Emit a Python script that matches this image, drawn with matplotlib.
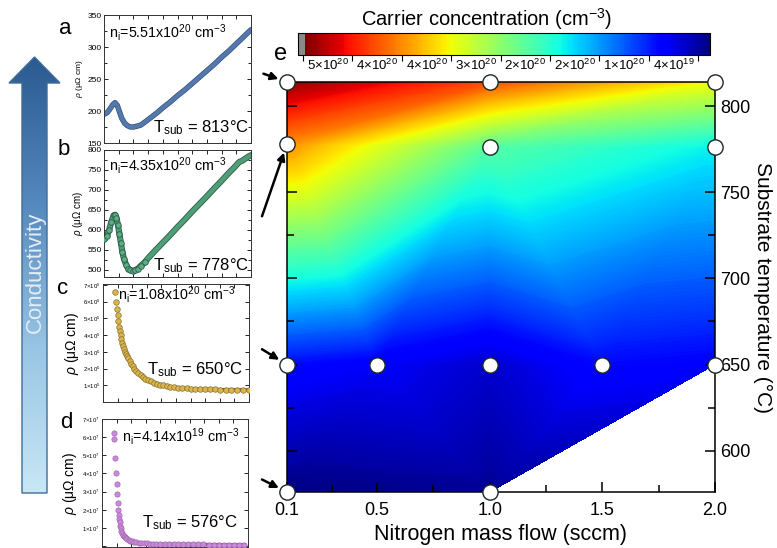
import numpy as np
import matplotlib
matplotlib.use('Agg')
import matplotlib.pyplot as plt
from matplotlib.tri import Triangulation
from matplotlib.ticker import MultipleLocator, FixedLocator, FixedFormatter, FuncFormatter
from matplotlib.patches import Polygon
from matplotlib.colors import LinearSegmentedColormap
import matplotlib.patheffects as pe

plt.rcParams['font.family'] = ['Liberation Sans', 'DejaVu Sans']
plt.rcParams['mathtext.fontset'] = 'custom'
plt.rcParams['mathtext.rm'] = 'Liberation Sans'
plt.rcParams['mathtext.it'] = 'Liberation Sans:italic'
plt.rcParams['mathtext.bf'] = 'Liberation Sans:bold'

# ---------------- data ----------------
flow = [0.1, 0.1, 0.1, 0.1, 0.5, 1.0, 1.0, 1.0, 1.0, 1.5, 2.0, 2.0, 2.0]
tsub = [814, 778, 650, 576, 650, 814, 776, 650, 576, 650, 814, 776, 650]
carrier = [5.51e20, 4.35e20, 1.08e20, 4.14e19, 0.97e20, 4.7e20, 2.75e20,
           0.76e20, 0.5e20, 1.08e20, 3.73e20, 2.27e20, 1.02e20]
triangles = [[0, 5, 1], [1, 5, 6], [5, 10, 6], [6, 10, 11],
             [1, 6, 4], [1, 4, 2], [4, 6, 7],
             [6, 9, 7], [6, 11, 9], [11, 12, 9],
             [2, 4, 3], [4, 8, 3], [4, 7, 8], [7, 9, 8], [9, 12, 8]]
arrow_points = [0, 1, 2, 3]

cbar_title = 'Carrier concentration (cm$^{-3}$)'
cbar_labels = ['5×10$^{20}$', '4×10$^{20}$', '4×10$^{20}$', '3×10$^{20}$',
               '2×10$^{20}$', '2×10$^{20}$', '1×10$^{20}$', '4×10$^{19}$']
x_ticks = [0.1, 0.5, 1.0, 1.5, 2.0]
x_ticklabels = ['0.1', '0.5', '1.0', '1.5', '2.0']
x_minor = [0.3, 0.75, 1.25, 1.75]
y_ticks = [600, 650, 700, 750, 800]

# small panels: temperature (K) vs resistivity
a_T = [0, 6, 12, 18, 22.5, 27, 31.5, 36, 42, 48, 54, 60, 66, 75, 84, 96, 108, 120, 135, 150,
       165, 180, 195, 210, 225, 240, 255, 270, 285, 300]
a_rho = [195, 197, 203, 210, 213, 209, 199, 189, 181, 177, 175, 175, 176, 178, 183, 190, 197,
         205, 214, 224, 233, 243, 253, 263, 273, 284, 294, 305, 316, 327]
b_T = [0, 6, 10.5, 15, 19.5, 22.5, 25.5, 28.5, 31.5, 34.5, 37.5, 40.5, 45, 49.5, 54, 58.5, 63,
       69, 75, 84, 90, 105, 120, 135, 150, 165, 180, 195, 210, 225, 240, 255, 264, 270, 276,
       282, 288, 294, 300]
b_rho = [578, 585, 600, 620, 636, 638, 630, 612, 590, 567, 545, 528, 513, 503, 499, 497, 499,
         503, 510, 520, 529, 549, 568, 587, 607, 626, 646, 665, 684, 704, 723, 743, 754, 762,
         770, 773, 778, 783, 787]
c_T = [24, 26.1, 28.2, 30, 31.8, 33.3, 34.8, 36.3, 37.8, 39.3, 41.1, 42.9, 45, 47.1, 49.5,
       51.9, 54.6, 57.6, 60.9, 64.5, 68.4, 72.6, 77.1, 81.9, 87, 92.4, 98.1, 104.1, 110.4, 117,
       123.9, 131.1, 138.6, 146.4, 154.5, 162.9, 171.6, 180.6, 189.9, 199.5, 209.4, 219.6,
       230.1, 240.9, 252, 263.4, 275.1, 287.1, 299.4]
c_rho = [6.55, 6.00, 5.55, 5.20, 4.85, 4.50, 4.25, 4.00, 3.75, 3.55, 3.35, 3.15, 3.00, 2.87,
         2.73, 2.60, 2.45, 2.30, 2.15, 2.00, 1.87, 1.74, 1.62, 1.50, 1.40, 1.31, 1.23, 1.16,
         1.10, 1.04, 0.99, 0.95, 0.91, 0.88, 0.85, 0.83, 0.81, 0.79, 0.78, 0.77, 0.76, 0.75,
         0.75, 0.74, 0.74, 0.73, 0.73, 0.73, 0.72]  # x1e5
d_T = [24, 24.6, 27, 28.5, 30, 31.2, 32.4, 33.3, 34.2, 35.1, 36, 37.2, 38.4, 39.9, 41.4, 43.2,
       45, 47.1, 49.5, 52.2, 55.2, 58.5, 62.1, 66, 70.5, 75, 80.1, 85.5, 91.5, 97.8, 104.7,
       111.9, 120, 129, 138, 147, 156, 166.5, 177, 187.5, 198, 208.5, 219, 229.5, 240, 250.5,
       261, 271.5, 282, 292.5]
d_rho = [6.25, 5.90, 4.85, 4.00, 3.40, 2.85, 2.35, 2.00, 1.72, 1.50, 1.30, 1.12, 0.97, 0.84,
         0.73, 0.63, 0.55, 0.48, 0.42, 0.37, 0.33, 0.29, 0.26, 0.23, 0.21, 0.19, 0.17, 0.16,
         0.15, 0.14, 0.13, 0.12, 0.115, 0.11, 0.105, 0.10, 0.10, 0.095, 0.095, 0.09, 0.09,
         0.09, 0.085, 0.085, 0.085, 0.08, 0.08, 0.08, 0.08, 0.08]  # x1e7

ni_texts = ['n$_\\mathregular{i}$=5.51x10$^{20}$ cm$^{-3}$',
            'n$_\\mathregular{i}$=4.35x10$^{20}$ cm$^{-3}$',
            'n$_\\mathregular{i}$=1.08x10$^{20}$ cm$^{-3}$',
            'n$_\\mathregular{i}$=4.14x10$^{19}$ cm$^{-3}$']
tsub_texts = ['T$_\\mathregular{sub}$ = 813°C', 'T$_\\mathregular{sub}$ = 778°C',
              'T$_\\mathregular{sub}$ = 650°C', 'T$_\\mathregular{sub}$ = 576°C']
letters = ['a', 'b', 'c', 'd']

# ---------------- figure ----------------
W, H = 777, 548
fig = plt.figure(figsize=(W / 100, H / 100), dpi=100)


def px_axes(l, t, r, b, **kw):
    return fig.add_axes([l / W, 1 - b / H, (r - l) / W, (b - t) / H], **kw)


# background axes (pixel coordinates) for the conductivity arrow
bg = px_axes(0, 0, W, H, zorder=-5)
bg.set_xlim(0, W)
bg.set_ylim(H, 0)
bg.axis('off')
arrow_poly = Polygon([(34.5, 57), (60, 83), (47, 83), (47, 493), (22, 493), (22, 83), (9, 83)],
                     closed=True, facecolor='none', edgecolor='#3e6d99', lw=1.0, zorder=3)
bg.add_patch(arrow_poly)
grad_cmap = LinearSegmentedColormap.from_list('g', ['#2a5a90', '#5588bd', '#98c5e4', '#c9e7f6'])
grad = np.linspace(0, 1, 256).reshape(-1, 1)
im = bg.imshow(grad, cmap=grad_cmap, extent=(9, 60, 493, 57), aspect='auto', zorder=2)
im.set_clip_path(arrow_poly)
bg.text(35.5, 272, 'Conductivity', rotation=90, ha='center', va='center', fontsize=16,
        color='#e4edf5', zorder=4)

# ---------------- main panel ----------------
ax = px_axes(287, 82, 715, 492)
tri = Triangulation(flow, tsub, triangles)
vmin, vmax = 4.0e19, 5.6e20
levels = np.linspace(vmin, vmax, 241)
cmap = plt.get_cmap('jet').copy()
cmap.set_over('#8a8a8a')
tcf = ax.tricontourf(tri, carrier, levels=levels, cmap=cmap, extend='max')
ax.plot(flow, tsub, 'o', ms=11, mfc='white', mec='#1c2828', mew=1.0,
        clip_on=False, zorder=6)
ax.set_xlim(0.1, 2.0)
ax.set_ylim(576, 814)
ax.set_xticks(x_ticks)
ax.set_xticklabels(x_ticklabels)
ax.xaxis.set_minor_locator(FixedLocator(x_minor))
ax.set_yticks(y_ticks)
ax.yaxis.set_minor_locator(MultipleLocator(25))
ax.tick_params(axis='both', which='both', direction='in', labelsize=13, width=1.1)
ax.tick_params(axis='both', which='major', length=7)
ax.tick_params(axis='both', which='minor', length=5)
ax.tick_params(axis='y', which='both', left=True, right=True, labelleft=False,
               labelright=True, pad=4)
ax.tick_params(axis='x', which='both', top=False, pad=7)
for s in ax.spines.values():
    s.set_linewidth(1.1)
ax.set_xlabel('Nitrogen mass flow (sccm)', fontsize=15.5, labelpad=4)
ax.yaxis.set_label_position('right')
ax.set_ylabel('Substrate temperature (°C)', fontsize=15, rotation=-90, labelpad=15)

for i in arrow_points:
    off = {0: (-17, 6), 1: (-18, -52), 2: (-18, 11), 3: (-18, 9)}[i]
    ax.annotate('', xy=(flow[i], tsub[i]), xycoords='data', xytext=off,
                textcoords='offset points', annotation_clip=False,
                arrowprops=dict(arrowstyle='-|>', color='black', lw=1.8,
                                shrinkA=0, shrinkB=6.5, mutation_scale=11))

fig.text(281 / W, 1 - 54 / H, 'e', fontsize=17, ha='center', va='center')

# ---------------- colorbar ----------------
cax = px_axes(298, 33, 710, 55)
cax.invert_xaxis()
cb = fig.colorbar(tcf, cax=cax, orientation='horizontal', extendrect=True, extendfrac=0.0125)
cb.outline.set_linewidth(0.8)
step = (vmax - vmin) * 0.1214
bounds = [vmax - k * step for k in range(9)]
mids = [vmax - (k + 0.5) * step for k in range(8)]
cb.set_ticks(bounds, labels=[''] * 9)
cb.minorlocator = FixedLocator(mids)
cb.minorformatter = FixedFormatter(cbar_labels)
cb.ax.tick_params(which='major', length=4, width=0.8, direction='out')
cb.ax.tick_params(which='minor', length=0, labelsize=9.5, pad=2)
fig.text(487 / W, 1 - 19 / H, cbar_title, fontsize=14.5, ha='center', va='center')

# ---------------- small panels ----------------
panel_px = [(104, 15, 251, 143), (104, 150, 251, 277), (103, 284, 249, 402), (102, 419, 248, 547)]
letter_px = [(65, 28), (64, 150), (63, 289), (66, 423)]


def style_small(a, lab_size):
    a.set_xlim(0, 300)
    a.xaxis.set_major_locator(MultipleLocator(30))
    a.tick_params(axis='both', which='both', direction='in', top=True, right=True,
                  labelbottom=False, width=0.6)
    a.tick_params(axis='both', which='major', length=3, labelsize=lab_size, pad=1.5)
    a.tick_params(axis='both', which='minor', length=2)
    for s in a.spines.values():
        s.set_linewidth(0.7)
        s.set_color('#333333')


# a
axa = px_axes(*panel_px[0])
axa.plot(a_T, a_rho, '-', color='#5478ab', lw=3.0, solid_capstyle='round',
         path_effects=[pe.Stroke(linewidth=3.9, foreground='#2f4d78'), pe.Normal()])
axa.set_ylim(150, 350)
axa.yaxis.set_major_locator(MultipleLocator(50))
axa.yaxis.set_minor_locator(MultipleLocator(25))
style_small(axa, 6)
axa.set_ylabel('$\\rho$ (μΩ cm)', fontsize=6, labelpad=2)

# b
axb = px_axes(*panel_px[1])
axb.plot(b_T, b_rho, '-', color='#4f9e78', lw=3.2, zorder=2, solid_capstyle='round',
         path_effects=[pe.Stroke(linewidth=4.4, foreground='#2c5c46'), pe.Normal()])
axb.plot(b_T[:20], b_rho[:20], 'o', ms=4.0, mfc='#5eae87', mec='#2c5c46', mew=0.6, zorder=3)
axb.set_ylim(482, 800)
axb.yaxis.set_major_locator(MultipleLocator(50))
axb.yaxis.set_minor_locator(MultipleLocator(25))
style_small(axb, 6)
axb.set_ylabel('$\\rho$ (μΩ cm)', fontsize=7, labelpad=2)

# c
c_vals = [v * 1e5 for v in c_rho]
axc = px_axes(*panel_px[2])
axc.plot(c_T[14:], c_vals[14:], '-', color='#6e5a22', lw=2.4, zorder=2)
axc.plot(c_T, c_vals, 'o', ms=4.0, mfc='#dcb64c', mec='#85702c', mew=0.5, zorder=3)
axc.set_ylim(0, 7.05e5)
axc.yaxis.set_major_locator(MultipleLocator(1e5))
axc.yaxis.set_major_formatter(FuncFormatter(
    lambda v, p: '' if v < 0.5e5 else '%d×10$^{5}$' % round(v / 1e5)))
style_small(axc, 4.3)
axc.set_ylabel('$\\rho$ (μΩ cm)', fontsize=10, labelpad=2)

# d
d_vals = [v * 1e7 for v in d_rho]
axd = px_axes(*panel_px[3])
axd.plot(d_T[12:], d_vals[12:], '-', color='#7d3f88', lw=2.4, zorder=2)
axd.plot(d_T, d_vals, 'o', ms=3.8, mfc='#c98ad9', mec='#a468b2', mew=0.5, zorder=3)
axd.set_ylim(-0.05e7, 7.0e7)
axd.yaxis.set_major_locator(MultipleLocator(1e7))
axd.yaxis.set_major_formatter(FuncFormatter(
    lambda v, p: '' if v < 0.5e7 else '%d×10$^{7}$' % round(v / 1e7)))
style_small(axd, 4.3)
axd.set_ylabel('$\\rho$ (μΩ cm)', fontsize=10, labelpad=2)

small_axes = [axa, axb, axc, axd]
ni_pos = [(0.035, 0.86), (0.035, 0.88), (0.10, 0.91), (0.14, 0.86)]
ts_pos = [(0.99, 0.12), (0.99, 0.09), (0.96, 0.27), (0.93, 0.19)]
for k, a in enumerate(small_axes):
    a.text(*ni_pos[k], ni_texts[k], transform=a.transAxes, fontsize=10.3, ha='left',
           va='center')
    a.text(*ts_pos[k], tsub_texts[k], transform=a.transAxes, fontsize=12, ha='right',
           va='center')
    fig.text(letter_px[k][0] / W, 1 - letter_px[k][1] / H, letters[k], fontsize=16,
             ha='center', va='center')

fig.savefig('out.png', dpi=100)
